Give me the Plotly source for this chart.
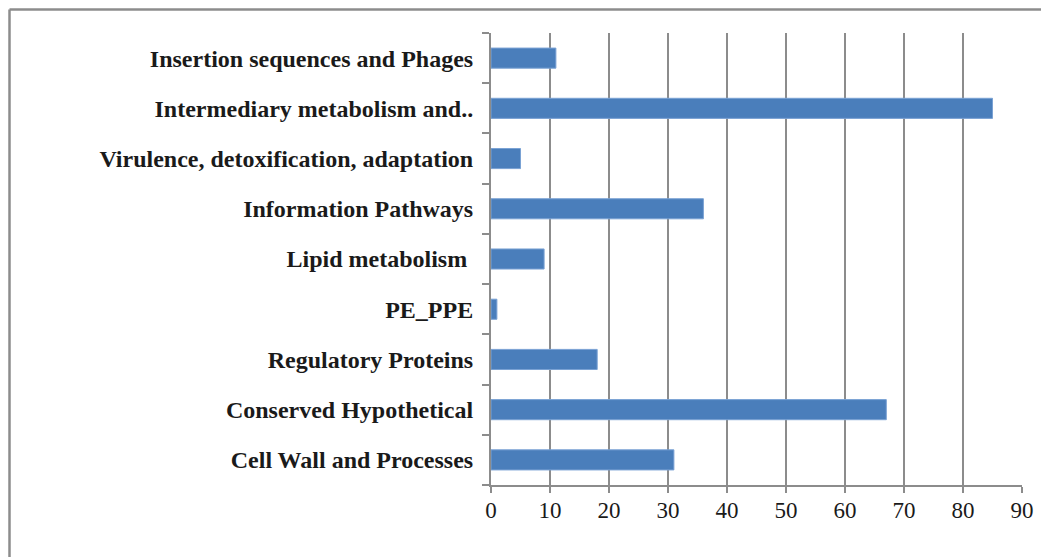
import plotly.graph_objects as go

categories = ["Cell Wall and Processes", "Conserved Hypothetical", "Regulatory Proteins",
              "PE_PPE", "Lipid metabolism ", "Information Pathways",
              "Virulence, detoxification, adaptation", "Intermediary metabolism and..",
              "Insertion sequences and Phages"]
values = [31, 67, 18, 1, 9, 36, 5, 85, 11]
x_ticks = [0, 10, 20, 30, 40, 50, 60, 70, 80, 90]

# page body has an 8px margin, so the figure is sized to the window minus it
OFF = 8
W, H = 1049 - OFF, 557 - OFF
L, R, T, B = 491 - OFF, 27, 33 - OFF, 72
pw, ph = W - L - R, H - T - B

def px(fx):
    # figure pixel -> paper coordinate
    return (fx - L) / pw

def py(fy):
    return (H - B - fy) / ph

fig = go.Figure(go.Bar(
    x=values, y=categories, orientation="h", width=0.4,
    marker=dict(color="#4a7ebb", line=dict(color="#7aa2d4", width=1)),
))

grey = "#8c8c8c"
fig.update_layout(
    width=W, height=H, margin=dict(l=L, r=R, t=T, b=B),
    paper_bgcolor="white", plot_bgcolor="white", showlegend=False,
    font=dict(family="Liberation Serif", color="#1a1a1a"),
    xaxis=dict(range=[0, 90], tickvals=x_ticks, showgrid=True, gridcolor=grey, gridwidth=1.5,
               showline=True, linecolor=grey, linewidth=2, ticks="outside", ticklen=6,
               tickcolor=grey, tickwidth=1.5, tickfont=dict(size=23, family="Liberation Serif"),
               ticklabelstandoff=-3, zeroline=False, fixedrange=True),
    yaxis=dict(categoryorder="array", categoryarray=categories, range=[-0.5, 8.5],
               showline=True, linecolor=grey, linewidth=2, ticks="outside", ticklen=7,
               tickson="boundaries", tickcolor=grey, tickwidth=1.5, showgrid=False,
               tickfont=dict(size=24, family="Liberation Serif", weight="bold"),
               ticklabelstandoff=11, fixedrange=True),
    shapes=[
        dict(type="line", xref="paper", yref="paper", x0=px(1.5), x1=px(W + 5), y0=py(1.5), y1=py(1.5),
             line=dict(color="#8c8c8c", width=2.5)),
        dict(type="line", xref="paper", yref="paper", x0=px(1.5), x1=px(1.5), y0=py(1.5), y1=py(H + 5),
             line=dict(color="#8c8c8c", width=2.5)),
    ],
)

fig.write_html("out.html")
